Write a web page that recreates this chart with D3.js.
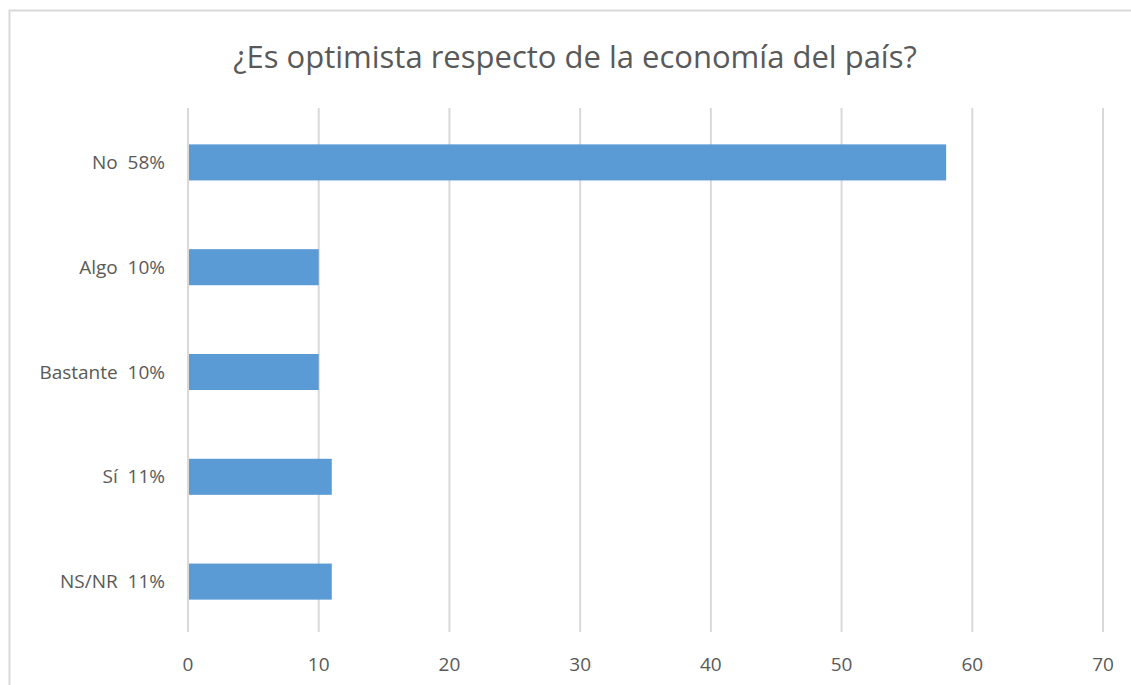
<!DOCTYPE html>
<html>
<head>
<meta charset="utf-8">
<script src="https://cdn.jsdelivr.net/npm/d3@7"></script>
<style>
  body { margin: 0; background: #fff; }
  svg text { font-family: "Open Sans", "Noto Sans", sans-serif; fill: #595959; }
</style>
</head>
<body>
<div id="chart"></div>
<script>
// Chart data
const categories = ["No  58%", "Algo  10%", "Bastante  10%", "Sí  11%", "NS/NR  11%"];
const values = [58, 10, 10, 11, 11];
const xTicks = [0, 10, 20, 30, 40, 50, 60, 70];
const title = "¿Es optimista respecto de la economía del país?";

const width = 1131, height = 685;
const margin = { top: 108, right: 28, bottom: 53, left: 188 };

const svg = d3.select("#chart")
    .append("svg")
    .attr("width", width)
    .attr("height", height);

// Outer frame (runs off the right and bottom edges)
svg.append("rect")
    .attr("x", 9.5)
    .attr("y", 10.5)
    .attr("width", width + 20)
    .attr("height", height + 20)
    .style("fill", "none")
    .style("stroke", "#d9d9d9")
    .style("stroke-width", 2);

const x = d3.scaleLinear()
    .domain([0, 70])
    .range([margin.left, width - margin.right]);

const y = d3.scaleBand()
    .domain(categories)
    .range([margin.top + 2, height - margin.bottom + 2])
    .paddingInner(0.656)
    .paddingOuter(0.328);

// Gridlines
svg.append("g")
    .selectAll("line")
    .data(xTicks)
    .join("line")
    .attr("x1", d => x(d))
    .attr("x2", d => x(d))
    .attr("y1", margin.top)
    .attr("y2", height - margin.bottom)
    .style("stroke", "#d9d9d9")
    .style("stroke-width", 2);

// Bars
svg.append("g")
    .selectAll("rect")
    .data(values)
    .join("rect")
    .attr("x", x(0) + 1)
    .attr("y", (d, i) => y(categories[i]))
    .attr("width", d => x(d) - x(0) - 1)
    .attr("height", y.bandwidth())
    .style("fill", "#5b9bd5");

// X axis labels
svg.append("g")
    .selectAll("text")
    .data(xTicks)
    .join("text")
    .attr("x", d => x(d))
    .attr("y", 671)
    .attr("text-anchor", "middle")
    .style("font-size", "19px")
    .text(d => d);

// Category labels
svg.append("g")
    .selectAll("text")
    .data(categories)
    .join("text")
    .attr("x", 165)
    .attr("y", d => y(d) + y.bandwidth() / 2)
    .attr("dy", "0.35em")
    .attr("text-anchor", "end")
    .style("font-size", "19px")
    .style("white-space", "pre")
    .text(d => d);

// Title
svg.append("text")
    .attr("x", 575)
    .attr("y", 68)
    .attr("text-anchor", "middle")
    .style("font-size", "31px")
    .text(title);
</script>
</body>
</html>
